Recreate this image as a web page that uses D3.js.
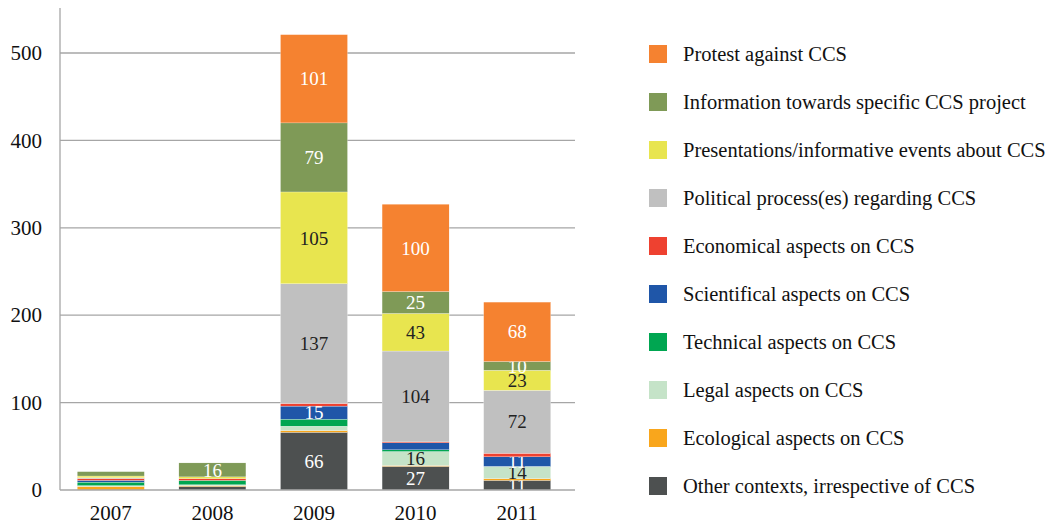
<!DOCTYPE html>
<html>
<head>
<meta charset="utf-8">
<script src="https://cdn.jsdelivr.net/npm/d3@7"></script>
<style>
  body { margin: 0; background: #fff; }
  svg text { font-family: "Liberation Serif", "Times New Roman", serif; }
</style>
</head>
<body>
<div id="graph"></div>
<script>
var years = ['2007', '2008', '2009', '2010', '2011']

// series listed bottom of stack first
var series = [
  'Other contexts, irrespective of CCS',
  'Ecological aspects on CCS',
  'Legal aspects on CCS',
  'Technical aspects on CCS',
  'Scientifical aspects on CCS',
  'Economical aspects on CCS',
  'Political process(es) regarding CCS',
  'Presentations/informative events about CCS',
  'Information towards specific CCS project',
  'Protest against CCS'
]

var other        = [0, 4, 66, 27, 11]
var ecological   = [4, 1, 2, 1, 2]
var legal        = [1, 1, 5, 16, 14]
var technical    = [4, 5, 8, 2, 0]
var scientifical = [2, 0, 15, 8, 11]
var economical   = [2, 2, 3, 1, 4]
var political    = [1, 0, 137, 104, 72]
var presentation = [2, 2, 105, 43, 23]
var information  = [5, 16, 79, 25, 10]
var protest      = [0, 0, 101, 100, 68]

var values = [other, ecological, legal, technical, scientifical, economical,
  political, presentation, information, protest]

var colors = ['#4d5050', '#f9a61c', '#c5e3c8', '#00a651', '#1f56a8',
  '#ee4130', '#c0c0c0', '#e8e54f', '#7f9a57', '#f58230']
var labelColors = ['#fff', '#222', '#222', '#fff', '#fff',
  '#fff', '#222', '#222', '#fff', '#fff']

var yTicks = [0, 100, 200, 300, 400, 500]

var width = 1055, height = 524

var rows = years.map((y, i) => {
  var r = {year: y}
  series.forEach((s, j) => r[s] = values[j][i])
  return r
})

var stacked = d3.stack().keys(series)(rows)

var svg = d3.select('#graph').append('svg')
  .attr('width', width).attr('height', height)

var x = d3.scaleBand().domain(years).range([60, 568]).paddingInner(0.34).paddingOuter(0.17)
var y = d3.scaleLinear().domain([0, 500]).range([490, 53])

// gridlines
svg.append('g').selectAll('line').data(yTicks.slice(1)).join('line')
  .attr('x1', 60).attr('x2', 575)
  .attr('y1', d => y(d)).attr('y2', d => y(d))
  .attr('stroke', '#a6a6a6').attr('stroke-width', 1.3)

// y axis
var yAxis = svg.append('g')
  .attr('transform', 'translate(60,0)')
  .call(d3.axisLeft(y).tickValues(yTicks).tickSize(0).tickPadding(18))
yAxis.select('.domain').remove()
yAxis.selectAll('text').attr('font-size', 21).attr('fill', '#111')
  .attr('font-family', '"Liberation Serif", serif')

svg.append('line')
  .attr('x1', 60).attr('x2', 60).attr('y1', 8).attr('y2', 490)
  .attr('stroke', '#a6a6a6').attr('stroke-width', 1.3)

// bars
var layers = svg.append('g').selectAll('g').data(stacked).join('g')
  .attr('fill', (d, i) => colors[i])

layers.selectAll('rect').data(d => d).join('rect')
  .attr('x', d => x(d.data.year))
  .attr('width', x.bandwidth())
  .attr('y', d => y(d[1]))
  .attr('height', d => y(d[0]) - y(d[1]))
  .attr('stroke', '#fff').attr('stroke-width', 0.25)

// segment labels for the bigger pieces
layers.each(function(layer, i){
  d3.select(this).selectAll('text').data(layer.filter(d => d[1] - d[0] >= 10)).join('text')
    .attr('x', d => x(d.data.year) + x.bandwidth()/2)
    .attr('y', d => (y(d[0]) + y(d[1]))/2)
    .attr('dy', '0.35em')
    .attr('text-anchor', 'middle')
    .attr('font-size', 19)
    .attr('fill', labelColors[i])
    .text(d => d[1] - d[0])
})

// x axis
svg.append('line')
  .attr('x1', 60).attr('x2', 575).attr('y1', 490).attr('y2', 490)
  .attr('stroke', '#a6a6a6').attr('stroke-width', 1.3)

svg.append('g').selectAll('text').data(years).join('text')
  .attr('x', d => x(d) + x.bandwidth()/2)
  .attr('y', 520)
  .attr('text-anchor', 'middle')
  .attr('font-size', 21)
  .attr('fill', '#111')
  .text(d => d)

// legend, top entry is the top of the stack
var legend = svg.append('g').selectAll('g').data(series.slice().reverse()).join('g')
  .attr('transform', (d, i) => `translate(649,${54 + i*48})`)

legend.append('rect')
  .attr('x', 0).attr('y', -9).attr('width', 18).attr('height', 18)
  .attr('fill', d => colors[series.indexOf(d)])

legend.append('text')
  .attr('x', 34).attr('dy', '0.35em')
  .attr('font-size', 20.5)
  .attr('fill', '#111')
  .text(d => d)
</script>
</body>
</html>
